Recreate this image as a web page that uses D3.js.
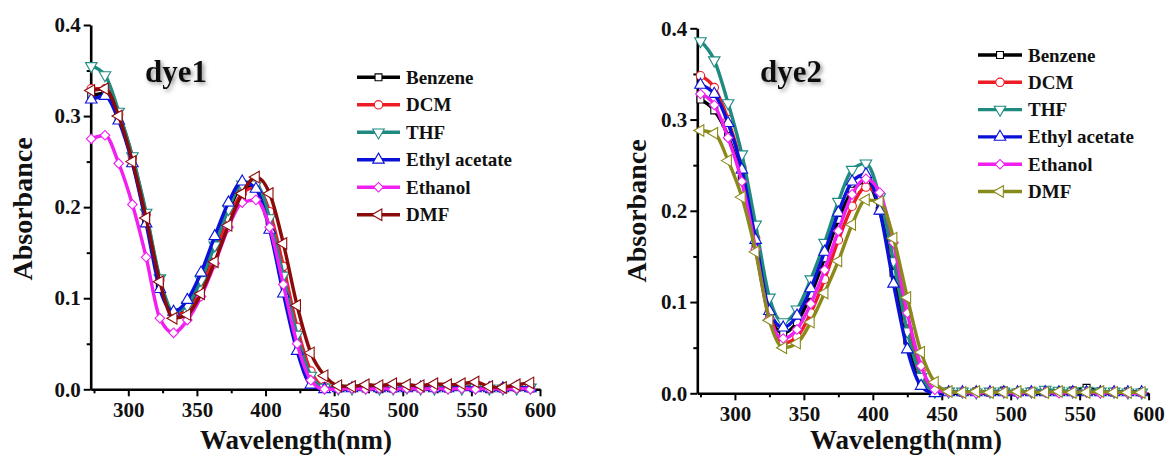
<!DOCTYPE html>
<html><head><meta charset="utf-8">
<script src="https://cdn.jsdelivr.net/npm/d3@7"></script>
<style>
html,body{margin:0;padding:0;background:#fff;}
svg{display:block;font-family:"Liberation Serif","Times New Roman",serif;font-weight:bold;}
</style></head>
<body>
<svg id="chart" width="1169" height="457"></svg>
<script>
// ---------- DATA ----------
const seriesNames = ["Benzene", "DCM", "THF", "Ethyl acetate", "Ethanol", "DMF"];
const yTicks = [0, 0.1, 0.2, 0.3, 0.4];
const xTicks = [300, 350, 400, 450, 500, 550, 600];

// dye1 wavelengths (nm)
const wl1 = [273,283,293,303,313,323,333,343,353,363,373,383,393,403,413,423,433,443,453,463,473,483,493,503,513,523,533,543,553,563,573,583,593];
const dye1Benzene = [0.322,0.325,0.298,0.250,0.185,0.115,0.083,0.090,0.118,0.155,0.195,0.222,0.222,0.185,0.120,0.055,0.012,0.002,0.001,0.002,0.001,0.000,0.001,0.002,0.001,0.002,0.001,0.003,0.002,0.000,0.001,0.002,0.001];
const dye1DCM     = [0.330,0.330,0.302,0.255,0.192,0.120,0.082,0.085,0.110,0.148,0.188,0.215,0.222,0.195,0.135,0.068,0.020,0.003,0.002,0.002,0.001,0.002,0.003,0.002,0.001,0.002,0.002,0.003,0.002,0.001,0.002,0.001,0.002];
const dye1THF     = [0.355,0.345,0.305,0.256,0.194,0.122,0.085,0.092,0.120,0.158,0.198,0.225,0.225,0.188,0.125,0.060,0.015,0.002,0.001,0.001,0.002,0.001,0.001,0.002,0.001,0.001,0.002,0.001,0.002,0.001,0.001,0.001,0.002];
const dye1EA      = [0.318,0.322,0.295,0.248,0.182,0.110,0.085,0.098,0.128,0.168,0.205,0.228,0.220,0.175,0.105,0.042,0.005,0.000,0.001,0.001,0.002,0.001,0.001,0.001,0.002,0.001,0.001,0.002,0.001,0.001,0.001,0.002,0.001];
const dye1Ethanol = [0.275,0.279,0.248,0.203,0.145,0.078,0.062,0.076,0.102,0.138,0.178,0.205,0.208,0.178,0.115,0.050,0.010,0.000,0.000,0.001,0.000,0.001,0.000,0.001,0.000,0.001,0.000,0.001,0.000,0.001,0.000,0.001,0.000];
const dye1DMF     = [0.328,0.330,0.300,0.250,0.188,0.118,0.078,0.082,0.105,0.140,0.180,0.215,0.233,0.215,0.160,0.092,0.040,0.015,0.004,0.003,0.005,0.004,0.006,0.005,0.004,0.006,0.005,0.006,0.008,0.003,0.002,0.005,0.007];

// dye2 wavelengths (nm)
const wl2 = [275,285,295,305,315,325,335,345,355,365,375,385,395,405,415,425,435,445,455,465,475,485,495,505,515,525,535,545,555,565,575,585,595];
const dye2Benzene = [0.322,0.310,0.282,0.235,0.160,0.085,0.066,0.078,0.108,0.148,0.190,0.222,0.232,0.200,0.132,0.058,0.012,0.001,0.002,0.001,0.002,0.001,0.003,0.001,0.002,0.003,0.002,0.003,0.006,0.002,0.001,0.002,0.001];
const dye2DCM     = [0.348,0.335,0.300,0.248,0.170,0.090,0.055,0.062,0.088,0.125,0.168,0.205,0.226,0.212,0.155,0.080,0.025,0.003,0.002,0.001,0.002,0.001,0.002,0.001,0.002,0.002,0.001,0.002,0.002,0.001,0.002,0.001,0.001];
const dye2THF     = [0.386,0.365,0.318,0.262,0.185,0.105,0.078,0.092,0.125,0.165,0.210,0.245,0.252,0.215,0.145,0.068,0.018,0.002,0.002,0.002,0.001,0.002,0.002,0.001,0.002,0.004,0.003,0.002,0.003,0.002,0.002,0.001,0.001];
const dye2EA      = [0.338,0.328,0.296,0.245,0.168,0.090,0.072,0.085,0.115,0.155,0.198,0.232,0.240,0.200,0.120,0.048,0.008,0.000,0.001,0.001,0.001,0.001,0.001,0.001,0.001,0.001,0.001,0.001,0.001,0.001,0.001,0.001,0.001];
const dye2Ethanol = [0.328,0.316,0.280,0.232,0.158,0.082,0.060,0.070,0.098,0.135,0.178,0.218,0.235,0.220,0.165,0.088,0.030,0.004,0.001,0.001,0.000,0.001,0.001,0.000,0.001,0.001,0.000,0.001,0.001,0.000,0.001,0.000,0.000];
const dye2DMF     = [0.288,0.285,0.255,0.215,0.155,0.080,0.050,0.055,0.078,0.110,0.145,0.185,0.212,0.210,0.170,0.105,0.045,0.012,0.002,0.001,0.002,0.001,0.001,0.002,0.001,0.001,0.002,0.001,0.001,0.002,0.001,0.001,0.001];

// ---------- STYLE ----------
const colors1 = ["#000000", "#ee1c25", "#1f8a80", "#0a12d8", "#f020f0", "#8b0a0a"];
const colors2 = ["#000000", "#ee1c25", "#1f8a80", "#0a12d8", "#f020f0", "#8a8a1a"];
const symbolTypes = [
  {t: d3.symbolSquare, r: 0, s: 48},
  {t: d3.symbolCircle, r: 0, s: 56},
  {t: d3.symbolTriangle, r: 180, s: 58},
  {t: d3.symbolTriangle, r: 0, s: 58},
  {t: d3.symbolSquare, r: 45, s: 46},
  {t: d3.symbolTriangle, r: -90, s: 58}
];

const svg = d3.select("#chart");
const defs = svg.append("defs");
const f = defs.append("filter").attr("id","shadow").attr("x","-20%").attr("y","-20%").attr("width","150%").attr("height","160%");
f.append("feDropShadow").attr("dx",2).attr("dy",2).attr("stdDeviation",2).attr("flood-color","#777").attr("flood-opacity",0.8);

function drawPanel(cfg) {
  const x = d3.scaleLinear().domain([cfg.xMin, 600]).range([cfg.x0, cfg.x1]);
  const y = d3.scaleLinear().domain([0, 0.4]).range([cfg.y0, cfg.y1]);
  const g = svg.append("g");

  // minor ticks
  const minorX = d3.axisBottom(x).tickValues(d3.range(275, 600, 50)).tickSize(4).tickFormat("");
  const minorY = d3.axisLeft(y).tickValues([0.05,0.15,0.25,0.35]).tickSize(4).tickFormat("");
  g.append("g").attr("transform", `translate(0,${cfg.y0})`).call(minorX).call(s => s.select(".domain").remove())
    .selectAll("line").attr("stroke","#000").attr("stroke-width",2);
  g.append("g").attr("transform", `translate(${cfg.x0},0)`).call(minorY).call(s => s.select(".domain").remove())
    .selectAll("line").attr("stroke","#000").attr("stroke-width",2);

  const xAxis = d3.axisBottom(x).tickValues(xTicks).tickSize(7).tickSizeOuter(0).tickPadding(6);
  const yAxis = d3.axisLeft(y).tickValues(yTicks).tickSize(7).tickSizeOuter(0).tickPadding(3).tickFormat(d3.format(".1f"));
  const gx = g.append("g").attr("transform", `translate(0,${cfg.y0})`).call(xAxis);
  const gy = g.append("g").attr("transform", `translate(${cfg.x0},0)`).call(yAxis);
  [gx, gy].forEach(a => {
    a.select(".domain").attr("stroke","#000").attr("stroke-width",2.6);
    a.selectAll(".tick line").attr("stroke","#000").attr("stroke-width",2);
    a.selectAll("text").attr("fill","#111").style("font-size","21px").style("font-family","Liberation Serif").style("font-weight","bold");
  });

  const line = d3.line().x(d => x(d[0])).y(d => y(d[1])).curve(d3.curveMonotoneX);
  cfg.series.forEach((vals, i) => {
    const pts = cfg.wl.map((w, k) => [w, vals[k]]);
    g.append("path").datum(pts).attr("d", line).attr("fill","none")
      .attr("stroke", cfg.colors[i]).attr("stroke-width", 3.4).attr("stroke-linejoin","round");
    const st = symbolTypes[i];
    g.append("g").selectAll("path").data(pts).join("path")
      .attr("d", d3.symbol().type(st.t).size(st.s))
      .attr("transform", d => `translate(${x(d[0])},${y(d[1])}) rotate(${st.r})`)
      .attr("fill","#fff").attr("stroke", cfg.colors[i]).attr("stroke-width",1.1);
  });

  // axis titles
  g.append("text").attr("x", cfg.xLabelX).attr("y", 449).attr("text-anchor","middle")
    .style("font-size","27px").attr("fill","#111").text("Wavelength(nm)");
  g.append("text").attr("transform", `translate(${cfg.yLabelX},${cfg.yLabelY}) rotate(-90)`).attr("text-anchor","middle")
    .style("font-size","28px").attr("fill","#111").text("Absorbance");

  // title
  g.append("text").attr("x", cfg.titleX).attr("y", 82).style("font-size","31px").attr("fill","#111")
    .attr("filter","url(#shadow)").text(cfg.title);

  // legend
  const lg = g.append("g");
  seriesNames.forEach((n, i) => {
    const yy = cfg.legY + i * cfg.legDy;
    lg.append("line").attr("x1", cfg.legX0).attr("x2", cfg.legX1).attr("y1", yy).attr("y2", yy)
      .attr("stroke", cfg.colors[i]).attr("stroke-width", 3.4);
    const st = symbolTypes[i];
    lg.append("path").attr("d", d3.symbol().type(st.t).size(st.s))
      .attr("transform", `translate(${(cfg.legX0 + cfg.legX1) / 2},${yy}) rotate(${st.r})`)
      .attr("fill","#fff").attr("stroke", cfg.colors[i]).attr("stroke-width",1.1);
    lg.append("text").attr("x", cfg.legX1 + 6).attr("y", yy + 6.5).style("font-size","19px").attr("fill","#111").text(n);
  });
}

drawPanel({
  xMin: 272.6, x0: 90.7, x1: 540, y0: 389.3, y1: 25,
  wl: wl1, series: [dye1Benzene, dye1DCM, dye1THF, dye1EA, dye1Ethanol, dye1DMF], colors: colors1,
  xLabelX: 296, yLabelX: 32, yLabelY: 209, titleX: 145, title: "dye1",
  legX0: 357, legX1: 400, legY: 77.3, legDy: 27.5
});
drawPanel({
  xMin: 272.7, x0: 697.3, x1: 1148.6, y0: 393.3, y1: 28.3,
  wl: wl2, series: [dye2Benzene, dye2DCM, dye2THF, dye2EA, dye2Ethanol, dye2DMF], colors: colors2,
  xLabelX: 906, yLabelX: 646, yLabelY: 211, titleX: 760, title: "dye2",
  legX0: 978, legX1: 1022, legY: 55, legDy: 27.3
});
</script>
</body></html>
